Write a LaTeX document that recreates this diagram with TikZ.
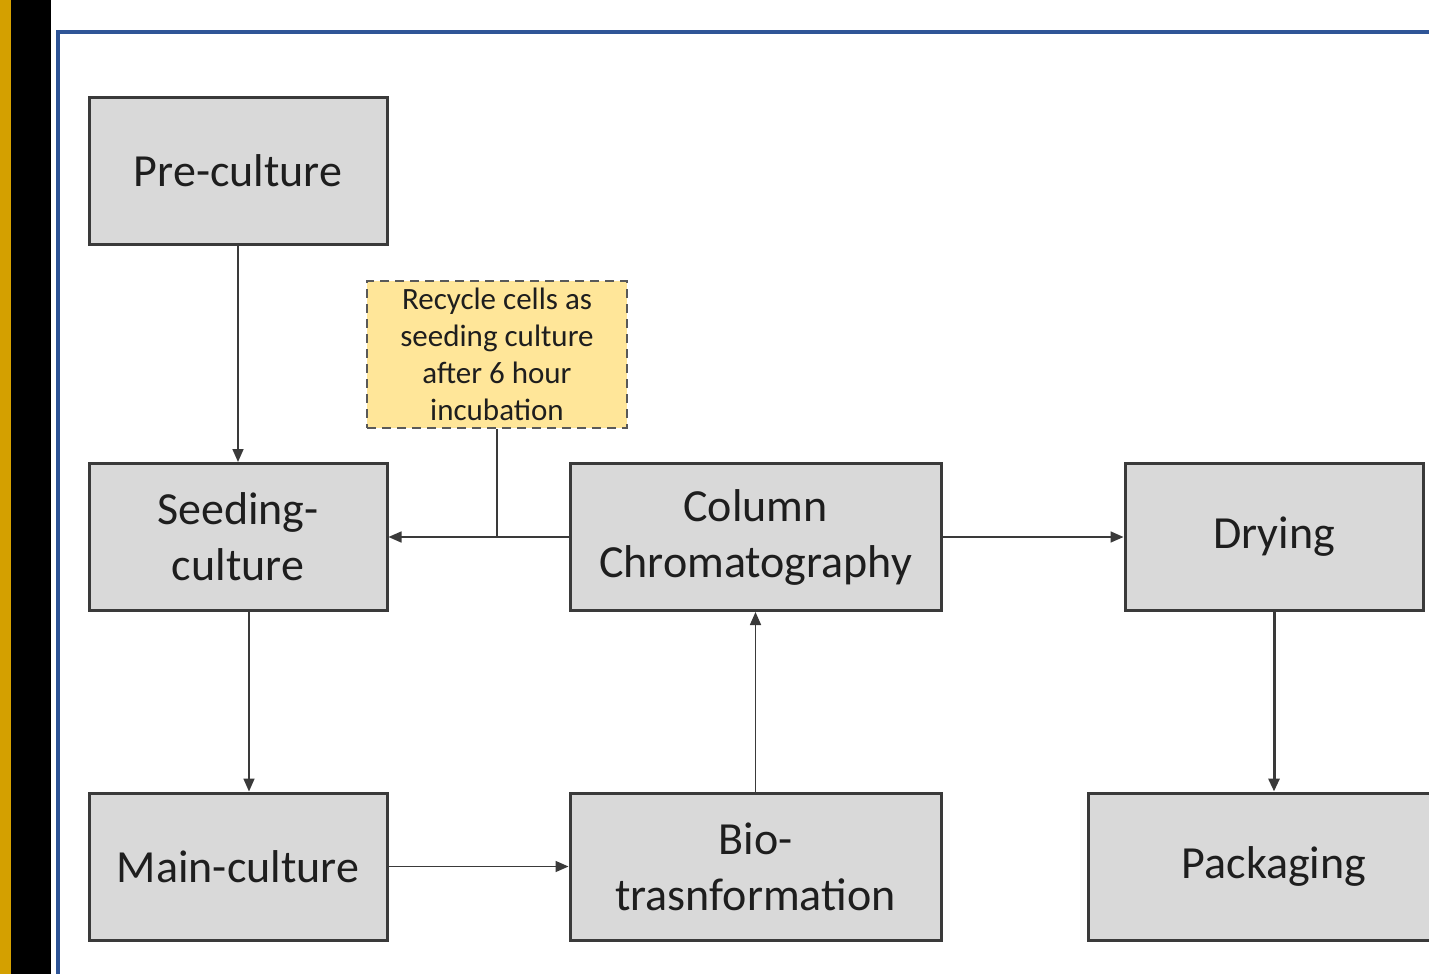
\documentclass[tikz,border=0pt]{standalone}
\usepackage{fontspec}
\setmainfont{Carlito}
\usetikzlibrary{arrows.meta}
\definecolor{boxfill}{HTML}{D9D9D9}
\definecolor{boxdraw}{HTML}{3A3A3A}
\definecolor{notefill}{HTML}{FFE699}
\definecolor{notedraw}{HTML}{595959}
\definecolor{frameblue}{HTML}{2F5597}
\definecolor{gold}{HTML}{D4A000}
\definecolor{txt}{HTML}{1E1E1E}
\tikzset{
  stagebox/.style={draw=boxdraw, fill=boxfill, line width=3pt, minimum width=298pt, minimum height=147pt,
    align=center, text=txt, font=\fontsize{46}{56}\selectfont, inner sep=0pt},
  widebox/.style={stagebox, minimum width=371pt},
  notebox/.style={draw=notedraw, fill=notefill, line width=2.2pt, dash pattern=on 9pt off 6pt,
    minimum width=260pt, minimum height=147pt, align=center, text=txt,
    font=\fontsize{31}{37}\selectfont, inner sep=0pt},
  conn/.style={draw=boxdraw, line width=1.6pt},
  arr/.style={conn, -{Triangle[length=13pt,width=11pt]}},
}
\begin{document}
\begin{tikzpicture}[x=1pt,y=-1pt]
\useasboundingbox (0,0) rectangle (1429,974);
\fill[white] (0,0) rectangle (1429,974);
\fill[gold] (0,0) rectangle (11,974);
\fill[black] (11,0) rectangle (51,974);
\draw[frameblue, line width=4pt] (57.5,980) -- (57.5,32.5) -- (1440,32.5);

\node[stagebox] (pre) at (238,171) {Pre-culture};
\node[stagebox] (seed) at (238,537) {Seeding-\\culture};
\node[stagebox] (main) at (238,866.5) {Main-culture};
\node[widebox] (col) at (755.5,537) {Column\\Chromatography};
\node[widebox] (bio) at (755.5,866.5) {Bio-\\trasnformation};
\node[stagebox] (dry) at (1274,537) {Drying};
\node[stagebox, minimum width=360pt, text width=0pt] (pack) at (1268,866.5) {};
\node[text=txt, font=\fontsize{46}{56}\selectfont] (packtxt) at (1274,866.5) {Packaging};
\node[notebox] (note) at (497,354.5) {Recycle cells as\\seeding culture\\after 6 hour\\incubation};

\draw[arr] (pre.south) -- (seed.north);
\draw[arr] (seed.south -| 249,0) coordinate (s1) -- (main.north -| s1);
\draw[arr] (main.east) -- (bio.west);
\draw[arr] (bio.north) -- (col.south);
\draw[arr] (col.west) -- (seed.east);
\coordinate (j) at (note.south |- col.west);
\draw[conn] (note.south) -- (j);
\draw[arr] (col.east) -- (dry.west);
\draw[arr, line width=3pt] (dry.south) -- (pack.north -| dry.south);
\end{tikzpicture}
\end{document}
